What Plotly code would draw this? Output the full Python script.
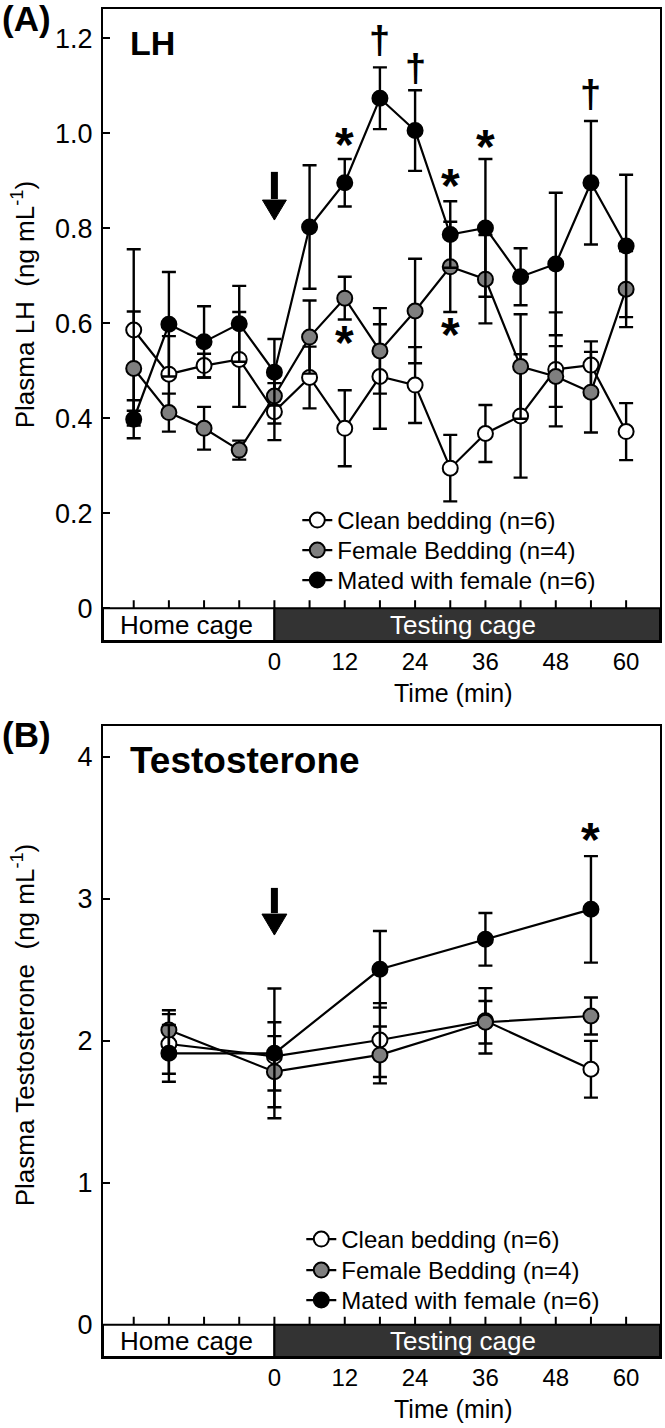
import plotly.graph_objects as go

# ---------------- data ----------------
T_LH = [-24, -18, -12, -6, 0, 6, 12, 18, 24, 30, 36, 42, 48, 54, 60]
LH_CLEAN = [0.586, 0.493, 0.511, 0.524, 0.414, 0.486, 0.379, 0.488, 0.470, 0.295, 0.368, 0.405, 0.503, 0.512, 0.372]
LH_CLEAN_SE = [0.17, 0.08, 0.025, 0.10, 0.06, 0.065, 0.08, 0.11, 0.08, 0.07, 0.06, 0.13, 0.12, 0.05, 0.06]
LH_FEMALE = [0.505, 0.412, 0.379, 0.333, 0.447, 0.571, 0.653, 0.542, 0.626, 0.719, 0.693, 0.509, 0.488, 0.455, 0.672]
LH_FEMALE_SE = [0.12, 0.04, 0.045, 0.02, 0.058, 0.077, 0.045, 0.09, 0.11, 0.095, 0.093, 0.11, 0.064, 0.085, 0.08]
LH_MATED = [0.398, 0.598, 0.561, 0.599, 0.497, 0.803, 0.896, 1.074, 1.006, 0.787, 0.801, 0.698, 0.725, 0.896, 0.763]
LH_MATED_SE = [0.04, 0.11, 0.075, 0.08, 0.07, 0.13, 0.05, 0.065, 0.085, 0.07, 0.145, 0.06, 0.15, 0.13, 0.15]

T_TESTO = [-18, 0, 18, 36, 54]
TESTO_CLEAN = [1.977, 1.89, 2.005, 2.14, 1.799]
TESTO_CLEAN_SE = [0.21, 0.24, 0.26, 0.23, 0.20]
TESTO_FEMALE = [2.075, 1.782, 1.90, 2.13, 2.174]
TESTO_FEMALE_SE = [0.14, 0.25, 0.20, 0.15, 0.13]
TESTO_MATED = [1.911, 1.911, 2.503, 2.714, 2.925]
TESTO_MATED_SE = [0.20, 0.457, 0.27, 0.185, 0.375]

SERIES_NAMES = ["Clean bedding (n=6)", "Female Bedding (n=4)", "Mated with female (n=6)"]
SERIES_FILL = ["white", "#7f7f7f", "black"]

X_TICKS = [0, 12, 24, 36, 48, 60]
X_MINOR = [-24, -18, -12, -6, 0, 6, 12, 18, 24, 30, 36, 42, 48, 54, 60]
Y_TICKS_A = [0, 0.2, 0.4, 0.6, 0.8, 1.0, 1.2]
Y_LABELS_A = ["0", "0.2", "0.4", "0.6", "0.8", "1.0", "1.2"]
Y_TICKS_B = [0, 1, 2, 3, 4]
Y_LABELS_B = ["0", "1", "2", "3", "4"]

# significance marks (time, value)
STAR_A_T = [12, 12, 30, 30, 36]
STAR_A_Y = [0.989, 0.572, 0.902, 0.589, 0.986]
DAGGER_A_T = [18, 24, 54]
DAGGER_A_Y = [1.196, 1.137, 1.084]
STAR_B_T = [54]
STAR_B_Y = [3.46]

# injection arrows (time, top value, tip value)
ARROW_T = 0
ARROW_A = (0.919, 0.8175)
ARROW_B = (3.076, 2.744)

# ---------------- layout geometry ----------------
W, H = 665, 1428
ML, MR, MT, MB = 103, 3, 9, 71
PW, PH = W - ML - MR, H - MT - MB
XR = [-29.24, 65.78]
YRA = [-0.069, 1.262]
YRB = [-0.227, 4.216]
A_TOP, A_BOT = 9, 641
B_TOP, B_BOT = 726, 1357
FONT = "Liberation Sans, Arial, sans-serif"
LEG_ROWS = [[520, 550, 580], [1239, 1270, 1300]]
LEG_TEXT_X = [338, 342]


def py(p):  # pixel y -> paper y
    return (H - MB - p) / PH


def px(p):  # pixel x -> paper x
    return (p - ML) / PW


dom_a = [py(A_BOT), py(A_TOP)]
dom_b = [py(B_BOT), py(B_TOP)]

fig = go.Figure()

panels = [
    ("x", "y", T_LH, [(LH_CLEAN, LH_CLEAN_SE), (LH_FEMALE, LH_FEMALE_SE), (LH_MATED, LH_MATED_SE)]),
    ("x2", "y2", T_TESTO, [(TESTO_CLEAN, TESTO_CLEAN_SE), (TESTO_FEMALE, TESTO_FEMALE_SE), (TESTO_MATED, TESTO_MATED_SE)]),
]
legend_layout = {}
leg_idx = 0
for p, (xa, ya, tt, series) in enumerate(panels):
    for k, ((vals, se), name, fill) in enumerate(zip(series, SERIES_NAMES, SERIES_FILL)):
        leg_idx += 1
        lg = "legend" if leg_idx == 1 else f"legend{leg_idx}"
        fig.add_trace(go.Scatter(
            x=tt, y=vals, name=name, mode="lines+markers",
            xaxis=xa, yaxis=ya, legend=lg,
            line=dict(color="black", width=2.2),
            marker=dict(size=15, color=fill, line=dict(color="black", width=2)),
            error_y=dict(type="data", array=se, visible=True, color="black", thickness=2.4, width=7),
        ))
        legend_layout[lg] = dict(bgcolor="rgba(0,0,0,0)", font=dict(size=24, family=FONT, color="black"),
                                 xanchor="left", yanchor="top", itemwidth=30,
                                 x=px(LEG_TEXT_X[p] - 40), y=py(LEG_ROWS[p][k] - 22))

axis_common = dict(showline=True, mirror=True, linecolor="black", linewidth=2,
                   showgrid=False, zeroline=False)
for i, (dom, yr, tv, tl) in enumerate([(dom_a, YRA, Y_TICKS_A, Y_LABELS_A),
                                       (dom_b, YRB, Y_TICKS_B, Y_LABELS_B)]):
    sfx = "" if i == 0 else "2"
    fig.update_layout(**{
        "xaxis" + sfx: dict(axis_common, domain=[0, 1], range=XR, anchor="y" + sfx, ticks="",
                            tickvals=X_TICKS, ticktext=[str(v) for v in X_TICKS],
                            tickfont=dict(size=24, family=FONT, color="black"), ticklabelstandoff=-2),
        "yaxis" + sfx: dict(axis_common, domain=dom, range=yr, anchor="x" + sfx, ticks="inside",
                            ticklen=7, tickwidth=2, tickcolor="black", tickvals=tv, ticktext=tl,
                            tickfont=dict(size=27, family=FONT, color="black"), ticklabelstandoff=3),
    })

shapes, annots = [], []
for sfx, yr in [("", YRA), ("2", YRB)]:
    xr, yref = "x" + sfx, "y" + sfx
    shapes.append(dict(type="rect", xref=xr, yref=yref, x0=XR[0], x1=0, y0=yr[0], y1=0,
                       fillcolor="white", line=dict(color="black", width=2), layer="above"))
    shapes.append(dict(type="rect", xref=xr, yref=yref, x0=0, x1=XR[1], y0=yr[0], y1=0,
                       fillcolor="#333333", line=dict(color="black", width=2), layer="above"))
    for t in X_MINOR:
        shapes.append(dict(type="line", xref=xr, yref=yref, x0=t, x1=t, ysizemode="pixel",
                           yanchor=0, y0=0, y1=8, line=dict(color="black", width=2)))
    shapes.append(dict(type="line", xref=xr, yref=yref, x0=0.8, x1=61.2, ysizemode="pixel",
                       yanchor=yr[0], y0=-34, y1=-34, line=dict(color="black", width=2)))
    annots.append(dict(text="Home cage", x=-15, y=yr[0] / 2, xref=xr, yref=yref, showarrow=False,
                       font=dict(size=26, family=FONT, color="black")))
    annots.append(dict(text="Testing cage", x=32.1, y=yr[0] / 2, xref=xr, yref=yref, showarrow=False,
                       font=dict(size=26, family=FONT, color="white")))
    annots.append(dict(text="Time (min)", x=30.6, y=0, xref=xr, yref=yref + " domain", yshift=-52,
                       yanchor="middle", xanchor="center",
                       showarrow=False, font=dict(size=25, family=FONT, color="black")))

# arrows
for sfx, (top, tip), yr, hh, hw in [("", ARROW_A, YRA, 20, 12), ("2", ARROW_B, YRB, 21, 12.5)]:
    xr, yref = "x" + sfx, "y" + sfx
    ypp = (yr[1] - yr[0]) / (A_BOT - A_TOP)
    xpp = (XR[1] - XR[0]) / PW
    base = tip + hh * ypp
    shapes.append(dict(type="line", xref=xr, yref=yref, x0=ARROW_T, x1=ARROW_T, y0=top, y1=base + ypp,
                       line=dict(color="black", width=7)))
    shapes.append(dict(type="path", xref=xr, yref=yref,
                       path=f"M {ARROW_T - hw * xpp},{base} L {ARROW_T + hw * xpp},{base} L {ARROW_T},{tip} Z",
                       fillcolor="black", line=dict(color="black", width=1)))

# significance marks
for t, v in zip(STAR_A_T, STAR_A_Y):
    annots.append(dict(text="<b>*</b>", x=t, y=v, xref="x", yref="y", showarrow=False, yshift=-6,
                       yanchor="middle", font=dict(size=48, family=FONT, color="black")))
for t, v in zip(DAGGER_A_T, DAGGER_A_Y):
    annots.append(dict(text="<b>†</b>", x=t, y=v, xref="x", yref="y", showarrow=False, yshift=0,
                       yanchor="middle", font=dict(size=38, family=FONT, color="black")))
for t, v in zip(STAR_B_T, STAR_B_Y):
    annots.append(dict(text="<b>*</b>", x=t, y=v, xref="x2", yref="y2", showarrow=False, yshift=-6,
                       yanchor="middle", font=dict(size=48, family=FONT, color="black")))

# panel labels and titles
annots += [
    dict(text="<b>(A)</b>", x=px(0), y=py(-3), xref="paper", yref="paper", xanchor="left", yanchor="top",
         showarrow=False, font=dict(size=35, family=FONT, color="black")),
    dict(text="<b>LH</b>", x=px(128), y=py(43.5), xref="paper", yref="paper", xanchor="left", yanchor="middle",
         showarrow=False, font=dict(size=34, family=FONT, color="black")),
    dict(text="<b>(B)</b>", x=px(0), y=py(734), xref="paper", yref="paper", xanchor="left", yanchor="middle",
         showarrow=False, font=dict(size=35, family=FONT, color="black")),
    dict(text="<b>Testosterone</b>", x=px(128), y=py(760), xref="paper", yref="paper", xanchor="left",
         yanchor="middle", showarrow=False, font=dict(size=37, family=FONT, color="black")),
    dict(text="Plasma LH\u00a0\u00a0(ng mL<sup>-1</sup>)", x=px(23), y=py(305), xref="paper", yref="paper",
         xanchor="center", yanchor="middle",
         textangle=-90, showarrow=False, font=dict(size=26, family=FONT, color="black")),
    dict(text="Plasma Testosterone\u00a0\u00a0(ng mL<sup>-1</sup>)", x=px(23), y=py(1025), xref="paper",
         yref="paper", xanchor="center", yanchor="middle",
         textangle=-90, showarrow=False, font=dict(size=26, family=FONT, color="black")),
]

fig.update_layout(
    width=W, height=H, margin=dict(l=ML, r=MR, t=MT, b=MB),
    paper_bgcolor="white", plot_bgcolor="white",
    showlegend=True,
    shapes=shapes, annotations=annots,
    font=dict(family=FONT, color="black"),
    **legend_layout,
)

fig.write_html("out.html", config={"displayModeBar": False},
               post_script="document.body.style.margin='0px';")
